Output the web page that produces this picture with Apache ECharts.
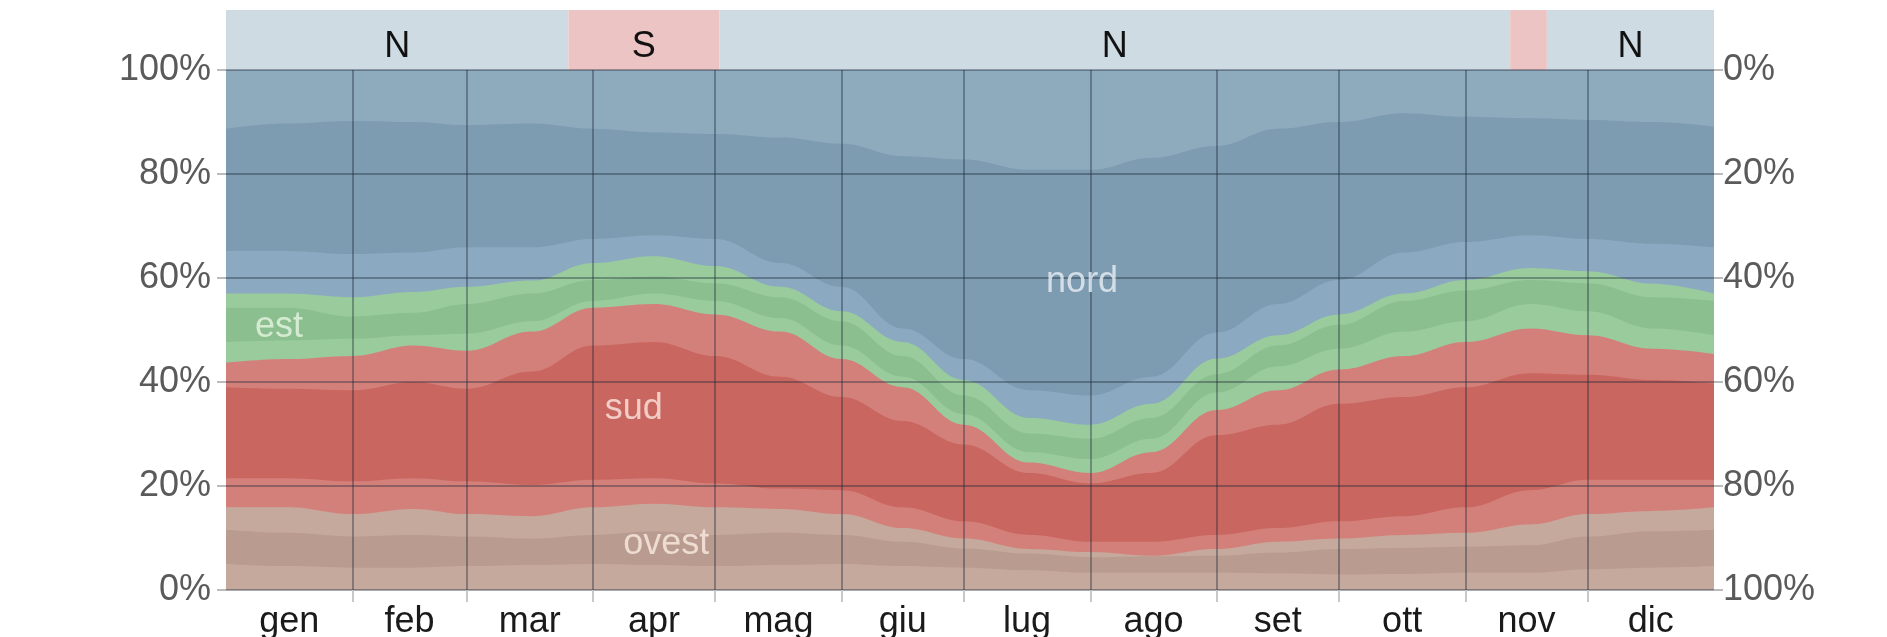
<!DOCTYPE html>
<html>
<head>
<meta charset="utf-8">
<script src="https://cdn.jsdelivr.net/npm/echarts@6/dist/echarts.min.js"></script>
<style>
html, body { margin: 0; padding: 0; background: #fff; }
#chart { width: 1887px; height: 637px; }
</style>
</head>
<body>
<div id="chart"></div>
<script>
// day of year of each sample
var days = [0, 15, 31, 46, 59, 75, 90, 105, 120, 136, 151, 166, 181, 197, 212, 227, 243, 258, 273, 289, 304, 320, 334, 350, 365];

// upper edge of each band, cumulative % from the bottom
var ovestLow = [5, 4.6, 4.3, 4.3, 4.6, 4.8, 5, 4.8, 4.6, 4.8, 5, 4.6, 4.3, 3.8, 3.3, 3.3, 3.3, 3.2, 3, 3.1, 3.3, 3.3, 4, 4.3, 4.6];
var ovestMid = [11.6, 11, 10.3, 10.6, 10.3, 9.9, 10.6, 11.3, 10.6, 11, 10.6, 9.3, 8, 7, 6.3, 6.5, 6.6, 7.2, 7.9, 8.1, 8.3, 8.6, 10.3, 11.3, 11.6];
var ovestTop = [15.9, 15.9, 14.6, 15.6, 14.6, 14.2, 15.9, 16.6, 15.9, 15.6, 14.6, 11.9, 9.9, 7.9, 7.3, 6.6, 7.9, 9.3, 9.9, 10.6, 11, 12.6, 14.6, 15.2, 15.9];
var sudLow = [21.5, 21.5, 20.9, 21.5, 20.9, 20.2, 21.2, 21.5, 20.5, 19.5, 19.2, 15.9, 13.2, 10.6, 9.3, 9.3, 10.6, 11.9, 13.2, 14.2, 15.9, 19.2, 21.2, 21.2, 21.2];
var sudMid = [39, 38.7, 38.4, 40, 38.7, 42, 47, 47.7, 45, 41, 37.1, 32.5, 28, 22.5, 20.5, 22.5, 29.8, 31.8, 35.8, 37.1, 39, 41.7, 41.4, 40.4, 39.7];
var sudTop = [43.7, 44.4, 45, 47, 46, 49.7, 54.3, 55, 53, 49.7, 44.4, 39, 31.8, 24.5, 22.5, 26.5, 34.6, 38.4, 42.4, 45, 47.7, 50.3, 49, 46.4, 45.4];
var estLow = [47.7, 48, 48.3, 49, 49.3, 51.7, 55.6, 57, 55.6, 52.3, 47, 41, 33.8, 26.5, 25.2, 29.1, 38, 43, 46.4, 49.7, 51.7, 55, 53.6, 50.3, 49];
var estMid = [54.3, 54.3, 52.6, 53.3, 55, 57, 59.6, 60.3, 59, 56.3, 51.7, 45, 37.4, 30.1, 29.1, 33.1, 41.5, 47, 51, 55.6, 57.6, 59.6, 59, 56.3, 55.6];
var estTop = [57, 57, 56.3, 57.3, 58.3, 59.5, 62.9, 64.2, 62.3, 58.3, 53.6, 47.7, 40.4, 33.1, 31.8, 35.8, 44.5, 49, 53, 57, 59.6, 61.9, 61.3, 58.9, 57];
var nordLow = [65.2, 65.2, 64.6, 64.9, 65.9, 65.9, 67.5, 68.2, 67.5, 62.9, 58.3, 50.3, 44.4, 38.4, 37.4, 41, 49.5, 55, 59.6, 64.9, 66.9, 68.2, 67.5, 66.6, 65.9];
var nordMid = [88.7, 89.7, 90.2, 90, 89.4, 89.7, 88.7, 88, 87.7, 87, 85.8, 83.4, 82.8, 80.8, 80.8, 83.1, 85.4, 88.7, 90, 91.7, 91, 90.7, 90.4, 90, 89.1];
var nordTop = [100, 100, 100, 100, 100, 100, 100, 100, 100, 100, 100, 100, 100, 100, 100, 100, 100, 100, 100, 100, 100, 100, 100, 100, 100];

var monthNames = ['gen', 'feb', 'mar', 'apr', 'mag', 'giu', 'lug', 'ago', 'set', 'ott', 'nov', 'dic'];
var monthDays = [31, 28, 31, 30, 31, 30, 31, 31, 30, 31, 30, 31];

// dominant direction strip above the plot
var stripFrom = [0, 84, 121, 315, 324];
var stripTo = [84, 121, 315, 324, 365];
var stripDir = ['N', 'S', 'N', 'S', 'N'];

// names written inside the bands
var nameText = ['nord', 'est', 'sud', 'ovest'];
var nameDay = [210, 13, 100, 108];
var nameValue = [59.2, 50.6, 34.8, 8.8];

var nordLight = '#8eaabd', nordDark = '#7d9bb1', nordLight2 = '#8ba9c0';
var estLight = '#9acb9d', estDark = '#8bbf8f';
var sudLight = '#d4807a', sudDark = '#c9665f';
var ovestLight = '#c6a99d', ovestDark = '#b99b8f';
var gridColor = 'rgba(30, 40, 55, 0.38)';
var font = '"Liberation Sans", Arial, sans-serif';

var monthStarts = [], monthCenters = [];
var acc = 0;
for (var i = 0; i < monthDays.length; i++) {
    if (i > 0) monthStarts.push(acc);
    monthCenters.push(acc + monthDays[i] / 2);
    acc += monthDays[i];
}

function pairs(arr) {
    return days.map(function (d, i) { return [d, arr[i]]; });
}

var bands = [
    [nordTop, nordLight], [nordMid, nordDark], [nordLow, nordLight2],
    [estTop, estLight], [estMid, estDark], [estLow, estLight],
    [sudTop, sudLight], [sudMid, sudDark], [sudLow, sudLight],
    [ovestTop, ovestLight], [ovestMid, ovestDark], [ovestLow, ovestLight]
];

var series = bands.map(function (b) {
    return {
        type: 'line',
        xAxisIndex: 0,
        yAxisIndex: 0,
        data: pairs(b[0]),
        smooth: 0.4,
        smoothMonotone: 'x',
        showSymbol: false,
        lineStyle: { width: 0 },
        areaStyle: { color: b[1], opacity: 1 },
        silent: true,
        z: 1
    };
});

var nameColors = ['#e8eff5', '#e6f6e2', '#fde6e0', '#fbece4'];
series.push({
    type: 'scatter',
    xAxisIndex: 0,
    yAxisIndex: 0,
    symbolSize: 0,
    z: 10,
    data: nameText.map(function (n, i) {
        return { value: [nameDay[i], nameValue[i]], name: n, label: { color: nameColors[i] } };
    }),
    label: {
        show: true,
        position: 'inside',
        formatter: function (p) { return p.name; },
        fontSize: 36,
        fontFamily: font
    }
});

series.push({
    type: 'line',
    xAxisIndex: 1,
    yAxisIndex: 2,
    data: [[0, 0], [365, 0]],
    showSymbol: false,
    lineStyle: { opacity: 0 },
    silent: true,
    markArea: {
        silent: true,
        data: stripDir.map(function (d, i) {
            return [{
                xAxis: stripFrom[i],
                itemStyle: { color: d === 'N' ? '#cfdbe2' : '#ebc4c3' },
                label: {
                    show: stripTo[i] - stripFrom[i] > 15,
                    formatter: d,
                    position: 'inside',
                    offset: [0, 7],
                    fontSize: 36,
                    fontFamily: font,
                    color: '#111'
                }
            }, { xAxis: stripTo[i] }];
        })
    }
});

var chart = echarts.init(document.getElementById('chart'));
chart.setOption({
    animation: false,
    backgroundColor: '#fff',
    grid: [
        { left: 226, right: 173, top: 70, bottom: 47, containLabel: false, outerBoundsMode: 'none' },
        { left: 226, right: 173, top: 10, height: 60, containLabel: false, outerBoundsMode: 'none' }
    ],
    xAxis: [
        {
            type: 'value',
            gridIndex: 0,
            min: 0,
            max: 365,
            z: 5,
            axisLine: { show: false },
            axisTick: {
                show: true,
                customValues: monthStarts,
                length: 12,
                lineStyle: { color: '#c8c8c8', width: 2 }
            },
            axisLabel: {
                customValues: monthCenters,
                formatter: function (v) {
                    var k = monthCenters.indexOf(v);
                    return k >= 0 ? monthNames[k] : '';
                },
                margin: 14,
                fontSize: 36,
                fontFamily: font,
                color: '#1a1a1a',
                verticalAlign: 'top'
            },
            splitLine: { show: true, lineStyle: { color: gridColor, width: 2 } }
        },
        { type: 'value', gridIndex: 1, min: 0, max: 365, show: false }
    ],
    yAxis: [
        {
            type: 'value',
            gridIndex: 0,
            min: 0,
            max: 100,
            interval: 20,
            z: 5,
            axisLine: { show: false },
            axisTick: { show: true, length: 9, lineStyle: { color: '#bbb', width: 2 } },
            axisLabel: { formatter: '{value}%', fontSize: 36, fontFamily: font, color: '#5a5a5a', margin: 15 },
            splitLine: { show: true, lineStyle: { color: gridColor, width: 2 } }
        },
        {
            type: 'value',
            gridIndex: 0,
            position: 'right',
            inverse: true,
            min: 0,
            max: 100,
            interval: 20,
            axisLine: { show: false },
            axisTick: { show: true, length: 9, lineStyle: { color: '#bbb', width: 2 } },
            axisLabel: { formatter: '{value}%', fontSize: 36, fontFamily: font, color: '#5a5a5a', margin: 9 },
            splitLine: { show: false }
        },
        { type: 'value', gridIndex: 1, min: 0, max: 1, show: false }
    ],
    series: series
});
</script>
</body>
</html>
